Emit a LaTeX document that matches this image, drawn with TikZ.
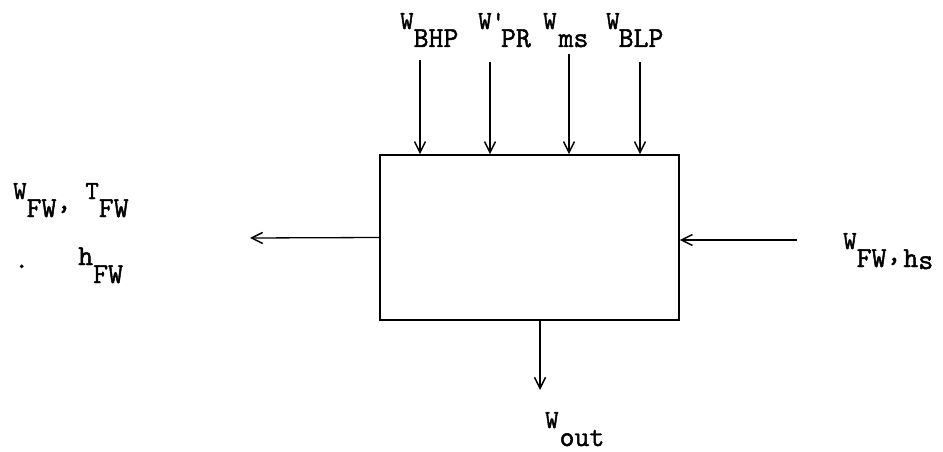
\documentclass[tikz,border=0pt]{standalone}
\usepackage{fontspec}
\newfontfamily\twfont{Latin Modern Mono}[FakeBold=1.6]
\usetikzlibrary{arrows.meta}
\newcommand\smw[1]{\raisebox{18pt}{\fontsize{26}{26}\selectfont #1}}
\newcommand\bigsz{\fontsize{29}{29}\selectfont}
\begin{document}
\begin{tikzpicture}[x=1pt,y=-1pt,
  arr/.style={draw,line width=1.3pt,-{Straight Barb[length=11pt,width=11pt,line width=1.5pt]}},
  lbl/.style={inner sep=0pt,anchor=base west,font=\twfont\bigsz},
  blockbox/.style={draw,line width=1.6pt,minimum width=299pt,minimum height=165pt,inner sep=0pt}]
\useasboundingbox (0,0) rectangle (943,452);
\node[blockbox] (box) at (529.5,237.5) {};
% top inputs
\coordinate (t1) at (420,60);
\coordinate (t2) at (490,62);
\coordinate (t3) at (569,54);
\coordinate (t4) at (640,62);
\draw[arr] (t1) -- (t1 |- box.north);
\draw[arr] (t2) -- (t2 |- box.north);
\draw[arr] (t3) -- (t3 |- box.north);
\draw[arr] (t4) -- (t4 |- box.north);
\node[lbl] (lbhp) at (400,47) {\smw{W}BHP};
\node[lbl] (lpr) at (478,47) {\smw{W'}\kern-4pt PR};
\node[lbl] (lms) at (543,47) {\smw{W}\kern2pt ms};
\node[lbl] (lblp) at (606,47) {\smw{W}\kern-1pt BLP};
% left output
\coordinate (lo) at (250,238);
\draw[arr] (box.west) -- (lo);
\node[lbl] (lfw) at (13,217) {\smw{W}FW\raisebox{8pt}{,}\hspace{14pt}\smw{T}FW};
\node[lbl] (lhfw) at (78,265) {h\raisebox{-18pt}{FW}};
\node[lbl] (dot) at (14,268) {.};
% right input
\coordinate (ri) at (797,240);
\draw[arr] (ri) -- (box.east |- ri);
\node[lbl] (lrfw) at (843,267) {\smw{W}FW\raisebox{6pt}{,}\kern2pt h\raisebox{-2pt}{s}};
% bottom output
\coordinate (bo) at (540,390);
\draw[arr] (box.south -| bo) -- (bo);
\node[lbl] (lout) at (545,446) {\smw{W}\kern1pt out};
\end{tikzpicture}
\end{document}
